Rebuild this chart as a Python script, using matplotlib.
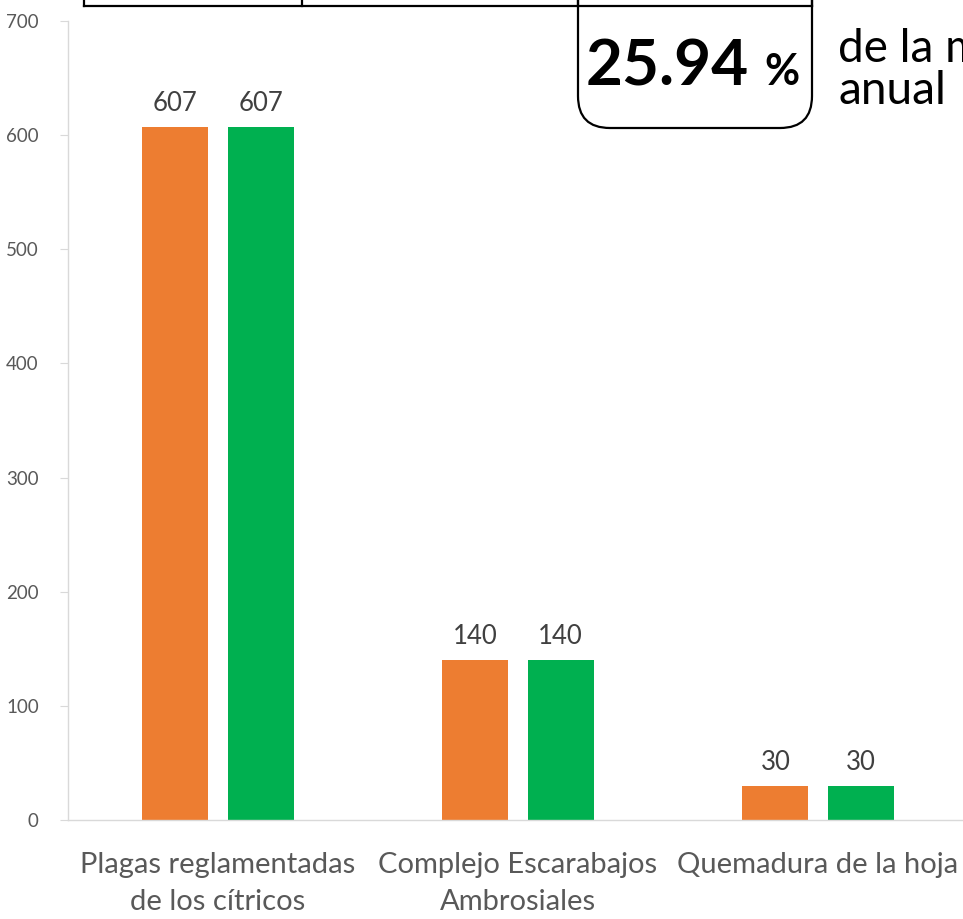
import matplotlib
matplotlib.use("Agg")
import matplotlib.pyplot as plt
from matplotlib.patches import FancyBboxPatch
from matplotlib.lines import Line2D
import numpy as np

plt.rcParams['font.family'] = ['Lato', 'DejaVu Sans']

categories = ["Plagas reglamentadas\nde los cítricos", "Complejo Escarabajos\nAmbrosiales", "Quemadura de la hoja"]
serie_a = [607, 140, 30]
serie_b = [607, 140, 30]
yticks = [0, 100, 200, 300, 400, 500, 600, 700]
big_value = "25.94"
side_text = "de la meta\nanual"

W, H = 963, 919
fig = plt.figure(figsize=(W/100, H/100), dpi=100)

def fx(px):
    return px / W
def fy(py):
    return 1 - py / H

ax = fig.add_axes([fx(68), fy(820), fx(900), (820-21)/H])
x = np.arange(len(categories))
bw = 0.22
off = 0.142
ba = ax.bar(x - off, serie_a, bw, color="#ED7D31")
bb = ax.bar(x + off, serie_b, bw, color="#00B050")
for bars in (ba, bb):
    for r in bars:
        ax.annotate(f"{int(r.get_height())}", (r.get_x() + r.get_width()/2, r.get_height()),
                    xytext=(0, 8), textcoords="offset points", ha="center", va="bottom",
                    fontsize=18.5, color="#404040")

ax.set_xlim(-0.5, 2.5)
ax.set_ylim(0, 700)
ax.set_yticks(yticks)
ax.set_xticks(x)
ax.set_xticklabels(categories, fontsize=21, color="#595959", linespacing=1.55)
ax.tick_params(axis="x", length=0, pad=23)
ax.tick_params(axis="y", length=6, color="#D9D9D9", labelsize=13.5, labelcolor="#595959", pad=15)
for s in ("top", "right"):
    ax.spines[s].set_visible(False)
for s in ("left", "bottom"):
    ax.spines[s].set_color("#D9D9D9")
    ax.spines[s].set_linewidth(1.0)

# top table remnants
lw = 1.6
fig.add_artist(Line2D([fx(84), fx(812)], [fy(6), fy(6)], color="black", lw=lw))
for px in (84, 302, 578, 812):
    fig.add_artist(Line2D([fx(px), fx(px)], [fy(-2), fy(6)], color="black", lw=lw))

box = FancyBboxPatch((5.78, (H-128)/100), 2.34, 3.0,
                     boxstyle="round,pad=0,rounding_size=0.32",
                     transform=fig.dpi_scale_trans, fc="white", ec="black", lw=lw)
fig.add_artist(box)

fig.text(fx(749), fy(85), big_value, ha="right", va="baseline", fontsize=46,
         fontweight="bold", color="black")
fig.text(fx(764), fy(85), "%", ha="left", va="baseline", fontsize=31,
         fontweight="bold", color="black")
lines = side_text.split("\n")
fig.text(fx(838), fy(62), lines[0], ha="left", va="baseline", fontsize=33, color="black")
fig.text(fx(838), fy(104), lines[1], ha="left", va="baseline", fontsize=33, color="black")

fig.savefig("out.png", dpi=100)
